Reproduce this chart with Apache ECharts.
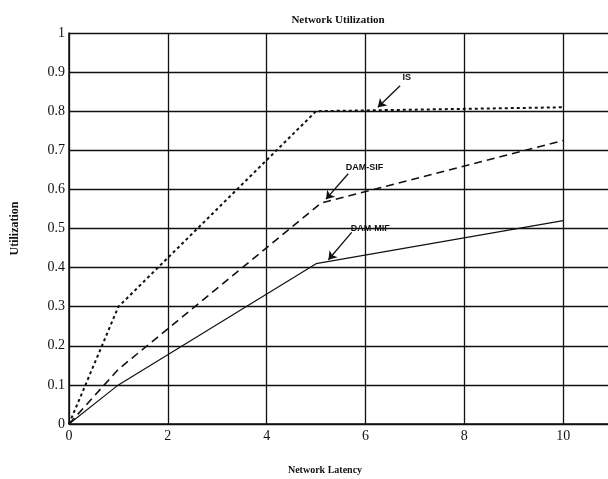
<!DOCTYPE html>
<html>
<head>
<meta charset="utf-8">
<script src="https://cdn.jsdelivr.net/npm/echarts@6/dist/echarts.min.js"></script>
<style>html,body{margin:0;padding:0;background:#fff;overflow:hidden;width:608px;height:479px;}#c{width:700px;height:479px;}</style>
</head>
<body>
<div id="c"></div>
<script>
const latencyIS = [0, 1, 5, 10];
const utilIS = [0, 0.30, 0.80, 0.81];
const latencySIF = [0, 1, 5.1, 10];
const utilSIF = [0, 0.14, 0.565, 0.725];
const latencyMIF = [0, 1, 5, 10];
const utilMIF = [0, 0.10, 0.41, 0.52];
const xTicks = [0, 2, 4, 6, 8, 10];
const yTicks = [0, 0.1, 0.2, 0.3, 0.4, 0.5, 0.6, 0.7, 0.8, 0.9, 1];
// annotations: label anchor, arrow start, arrow end (data coordinates)
const annIS = {text: 'IS', label: [6.75, 0.885], from: [6.7, 0.865], to: [6.25, 0.81]};
const annSIF = {text: 'DAM-SIF', label: [5.6, 0.655], from: [5.65, 0.64], to: [5.2, 0.575]};
const annMIF = {text: 'DAM-MIF', label: [5.7, 0.50], from: [5.72, 0.49], to: [5.25, 0.42]};

const pairs = (xs, ys) => xs.map((x, i) => [x, ys[i]]);
const serif = '"Liberation Serif", "DejaVu Serif", serif';
const sans = '"Liberation Sans", Arial, sans-serif';

function ann(a) {
  return {
    markLine: {
      silent: true, animation: false,
      symbol: ['none', 'arrow'], symbolSize: 8,
      lineStyle: {color: '#111', width: 1.3, type: 'solid'},
      label: {show: false},
      data: [[{coord: a.from}, {coord: a.to}]]
    },
    markPoint: {
      silent: true, animation: false,
      symbol: 'circle', symbolSize: 0,
      label: {show: true, position: 'right', distance: 0, formatter: a.text,
        fontFamily: sans, fontSize: 9, fontWeight: 'bold', color: '#111'},
      data: [{coord: a.label, value: a.text}]
    }
  };
}

const chart = echarts.init(document.getElementById('c'), null, {renderer: 'canvas'});
chart.setOption({
  animation: false,
  backgroundColor: '#fff',
  title: [
    {text: 'Network Utilization', left: 333, top: 10, textAlign: 'center',
      textStyle: {fontFamily: serif, fontSize: 11, fontWeight: 'bold', color: '#111'}},
    {text: 'Network Latency', left: 320, top: 460, textAlign: 'center',
      textStyle: {fontFamily: serif, fontSize: 10, fontWeight: 'bold', color: '#111'}}
  ],
  grid: {left: 69, top: 33, bottom: 55, right: 38, containLabel: false, outerBoundsMode: 'none'},
  xAxis: {
    type: 'value', min: 0, max: 12, interval: 2,
    axisLine: {show: true, onZero: false, lineStyle: {color: '#111', width: 1.5}},
    axisTick: {show: false},
    splitLine: {show: true, lineStyle: {color: '#111', width: 1.3}},
    axisLabel: {fontFamily: serif, fontSize: 14, color: '#111', margin: 5,
      formatter: v => xTicks.includes(v) ? String(v) : ''}
  },
  yAxis: {
    type: 'value', min: 0, max: 1, interval: 0.1,
    name: 'Utilization', nameLocation: 'middle', nameGap: 48,
    nameTextStyle: {fontFamily: serif, fontSize: 12, fontWeight: 'bold', color: '#111'},
    axisLine: {show: true, lineStyle: {color: '#111', width: 1.5}},
    axisTick: {show: false},
    splitLine: {show: true, lineStyle: {color: '#111', width: 1.3}},
    axisLabel: {fontFamily: serif, fontSize: 14, color: '#111', margin: 4,
      formatter: v => { const t = yTicks.find(y => Math.abs(y - v) < 1e-6); return t === undefined ? '' : String(t); }}
  },
  series: [
    Object.assign({
      name: 'IS', type: 'line', data: pairs(latencyIS, utilIS), symbol: 'none',
      lineStyle: {color: '#111', width: 2, type: [3, 3]}
    }, ann(annIS)),
    Object.assign({
      name: 'DAM-SIF', type: 'line', data: pairs(latencySIF, utilSIF), symbol: 'none',
      lineStyle: {color: '#111', width: 1.6, type: [8, 5]}
    }, ann(annSIF)),
    Object.assign({
      name: 'DAM-MIF', type: 'line', data: pairs(latencyMIF, utilMIF), symbol: 'none',
      lineStyle: {color: '#111', width: 1.2, type: 'solid'}
    }, ann(annMIF))
  ]
});
</script>
</body>
</html>
